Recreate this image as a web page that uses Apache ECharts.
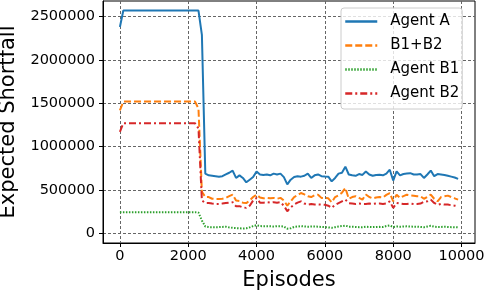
<!DOCTYPE html>
<html><head><meta charset="utf-8">
<script src="https://cdn.jsdelivr.net/npm/echarts@6/dist/echarts.min.js"></script>
<style>html,body{margin:0;padding:0;background:#fff}#c{width:484px;height:290px}</style>
</head><body><div id="c"></div>
<script>
const episodes = [0,100,200,300,400,500,600,700,800,900,1000,1100,1200,1300,1400,1500,1600,1700,1800,1900,2000,2100,2200,2300,2400,2500,2600,2700,2800,2900,3000,3100,3200,3300,3400,3500,3600,3700,3800,3900,4000,4100,4200,4300,4400,4500,4600,4700,4800,4900,5000,5100,5200,5300,5400,5500,5600,5700,5800,5900,6000,6100,6200,6300,6400,6500,6600,6700,6800,6900,7000,7100,7200,7300,7400,7500,7600,7700,7800,7900,8000,8100,8200,8300,8400,8500,8600,8700,8800,8900,9000,9100,9200,9300,9400,9500,9600,9700,9800,9900];
const agentA = [2380000,2570000,2570000,2570000,2570000,2570000,2570000,2570000,2570000,2570000,2570000,2570000,2570000,2570000,2570000,2570000,2570000,2570000,2570000,2570000,2570000,2570000,2570000,2570000,2290000,
690000,670000,665000,660000,655000,660000,680000,700000,725000,640000,670000,640000,590000,620000,650000,715000,680000,675000,680000,670000,690000,680000,690000,650000,565000,
620000,650000,660000,655000,665000,690000,640000,670000,680000,660000,657000,655000,600000,640000,690000,700000,770000,680000,670000,665000,685000,675000,715000,680000,665000,675000,677000,
670000,690000,735000,610000,715000,670000,685000,690000,695000,680000,680000,685000,640000,680000,725000,660000,685000,680000,675000,665000,655000,645000,630000];
const b1b2 = [1420000,1520000,1520000,1520000,1520000,1520000,1520000,1520000,1520000,1520000,1520000,1520000,1520000,1520000,1520000,1520000,1520000,1520000,1520000,1520000,1520000,1520000,1520000,1440000,480000,
420000,420000,400000,398000,398000,400000,410000,430000,447000,380000,375000,355000,350000,380000,420000,447000,415000,405000,410000,405000,410000,400000,410000,380000,320000,
370000,420000,440000,466000,450000,430000,420000,440000,447000,410000,409000,405000,360000,420000,440000,470000,525000,400000,420000,430000,410000,390000,450000,420000,405000,415000,420000,
415000,445000,466000,371000,447000,410000,430000,447000,440000,436000,430000,428000,400000,420000,447000,400000,371000,420000,428000,436000,420000,405000,390000];
const agentB1 = [245000,245000,245000,245000,245000,245000,245000,245000,245000,245000,245000,245000,245000,245000,245000,245000,245000,245000,245000,245000,245000,245000,245000,240000,150000,
80000,73000,73000,73000,73000,75000,78000,70000,65000,62000,60000,57000,60000,70000,85000,95000,85000,84000,84000,84000,80000,84000,84000,80000,55000,
60000,75000,80000,85000,80000,78000,80000,80000,78000,75000,73000,70000,65000,72000,80000,85000,90000,78000,78000,75000,73000,72000,78000,75000,73000,75000,76000,
75000,85000,92000,75000,80000,78000,80000,82000,80000,78000,78000,75000,72000,80000,88000,78000,75000,75000,78000,75000,73000,72000,70000];
const agentB2 = [1170000,1270000,1270000,1270000,1270000,1270000,1270000,1270000,1270000,1270000,1270000,1270000,1270000,1270000,1270000,1270000,1270000,1270000,1270000,1270000,1270000,1270000,1270000,1210000,380000,
352000,352000,345000,340000,340000,345000,350000,355000,360000,313000,315000,300000,295000,320000,380000,409000,355000,355000,360000,355000,360000,355000,360000,320000,256000,
300000,333000,355000,370000,345000,333000,340000,333000,335000,333000,330000,320000,295000,330000,350000,370000,390000,350000,345000,340000,345000,340000,340000,345000,340000,345000,345000,
340000,345000,370000,295000,352000,345000,340000,340000,345000,340000,340000,345000,365000,370000,390000,352000,330000,340000,333000,333000,325000,320000,313000];
const seriesNames = ['Agent A','B1+B2','Agent B1','Agent B2'];
const xTicks = [0,2000,4000,6000,8000,10000];
const yTicks = [0,500000,1000000,1500000,2000000,2500000];

const pair = (ys) => episodes.map((x,i)=>[x,ys[i]]);
const FONT = 'DejaVu Sans';
const gridLine = {show:true, lineStyle:{color:'#666', width:1, type:[3,2]}};
const chart = echarts.init(document.getElementById('c'), null, {renderer:'canvas'});
chart.setOption({
  animation:false,
  backgroundColor:'#fff',
  grid:{left:103, right:9, top:1, bottom:47, show:true, borderColor:'#000', borderWidth:1, backgroundColor:'transparent', containLabel:false, outerBoundsMode:'none'},
  xAxis:{type:'value', min:-495, max:10395,
    name:'Episodes', nameLocation:'middle', nameGap:27,
    nameTextStyle:{fontFamily:FONT, fontSize:21, color:'#000'},
    axisLine:{show:true, onZero:false, lineStyle:{color:'#000', width:1}},
    axisTick:{show:true, customValues:xTicks, length:4, lineStyle:{color:'#000'}},
    axisLabel:{customValues:xTicks, formatter:(v)=>String(v), fontFamily:FONT, fontSize:14.5, color:'#000', margin:6},
    splitLine:gridLine},
  yAxis:{type:'value', min:-110000, max:2680000,
    name:'Expected Shortfall', nameLocation:'middle', nameGap:84,
    nameTextStyle:{fontFamily:FONT, fontSize:21, color:'#000'},
    axisLine:{show:true, onZero:false, lineStyle:{color:'#000', width:1}},
    axisTick:{show:true, customValues:yTicks, length:4, lineStyle:{color:'#000'}},
    axisLabel:{customValues:yTicks, formatter:(v)=>String(v), fontFamily:FONT, fontSize:14.5, color:'#000', margin:8},
    splitLine:gridLine},
  legend:{orient:'vertical', left:341, top:8, padding:[6,3,8,3], itemGap:9, itemWidth:32, itemHeight:14,
    backgroundColor:'rgba(255,255,255,0.8)', borderColor:'#ccc', borderWidth:1, borderRadius:3,
    itemStyle:{color:'transparent', borderWidth:0, opacity:0},
    lineStyle:{width:2.5},
    textStyle:{fontFamily:FONT, fontSize:15, color:'#000', padding:[0,0,0,8]},
    data:seriesNames},
  series:[
    {name:seriesNames[0], type:'line', data:pair(agentA), symbol:'none', showSymbol:false, color:'#1f77b4', lineStyle:{width:2, color:'#1f77b4'}},
    {name:seriesNames[1], type:'line', data:pair(b1b2), symbol:'none', showSymbol:false, color:'#ff7f0e', lineStyle:{width:2, color:'#ff7f0e', type:[7,3]}},
    {name:seriesNames[2], type:'line', data:pair(agentB1), symbol:'none', showSymbol:false, color:'#2ca02c', lineStyle:{width:2, color:'#2ca02c', type:[1.5,1.5]}},
    {name:seriesNames[3], type:'line', data:pair(agentB2), symbol:'none', showSymbol:false, color:'#d62728', lineStyle:{width:2, color:'#d62728', type:[7,3,2,3]}}
  ]
});
</script></body></html>
